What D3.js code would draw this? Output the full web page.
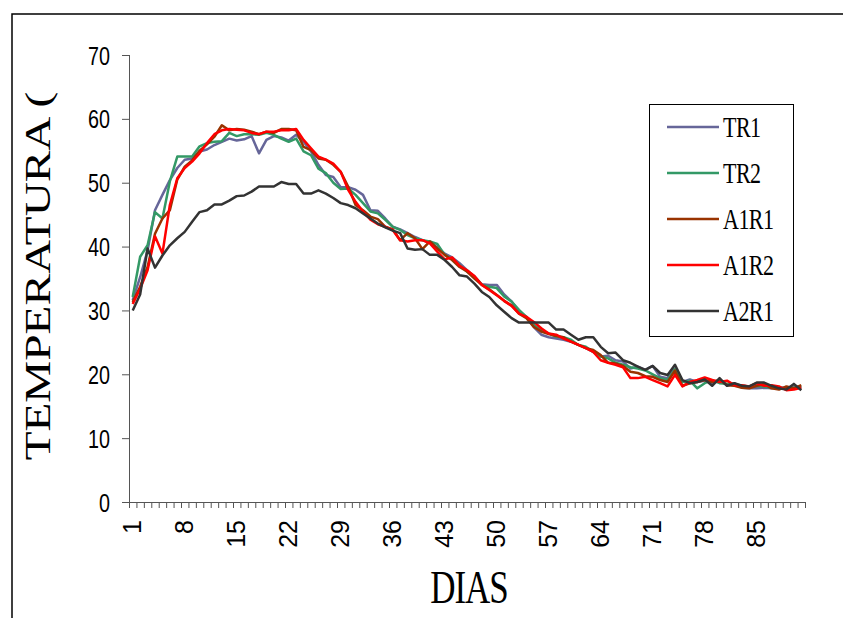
<!DOCTYPE html>
<html>
<head>
<meta charset="utf-8">
<script src="https://cdn.jsdelivr.net/npm/d3@7"></script>
<style>
  html, body { margin: 0; padding: 0; background: #fff; }
  svg { display: block; }
</style>
</head>
<body>
<div id="chart"></div>
<script>
// Data, days 1..91
const days = d3.range(1, 92);

const tr1 = [31.6, 35.2, 39.4, 45.7, 48.1, 50.4, 52.3, 53.6, 53.8, 54.9, 55.2, 55.9, 56.4, 56.9,
  56.6, 56.8, 57.3, 54.6, 56.7, 57.3, 57.1, 56.6, 57.5, 56.4, 54.9, 52.8, 51.2, 50.9, 49.3,
  49.3, 48.9, 48.1, 45.7, 45.6, 44.4, 43.1, 42.7, 42.1, 41.5, 41.0, 40.6, 39.9, 38.9, 38.3, 37.4, 36.3, 35.3, 34.1, 34.0, 34.0, 32.5,
  31.4, 29.8, 29.0, 27.4, 26.2, 25.8, 25.6, 25.4, 25.1, 24.6, 24.1, 23.5, 22.8, 22.9, 22.2, 22.0, 20.9, 21.2, 20.7, 21.3,
  19.6, 19.4, 20.9, 18.8, 19.2, 18.8, 19.0, 18.6, 19.1, 18.3, 18.6, 17.9, 17.8, 17.8, 17.9, 17.8, 17.9, 17.9, 18.1, 17.9];

const tr2 = [32.1, 38.4, 40.2, 45.4, 44.4, 50.2, 54.1, 54.1, 54.1, 55.7, 56.2, 56.4, 56.5, 57.8,
  57.3, 57.6, 57.6, 57.5, 57.8, 57.5, 56.9, 56.4, 56.9, 54.9, 54.3, 52.2, 51.5, 50.0, 49.0,
  49.1, 48.1, 46.8, 45.5, 45.2, 44.2, 43.1, 42.6, 41.8, 41.3, 41.0, 40.8, 40.4, 38.7, 38.0, 37.1, 36.1, 35.3, 34.0, 33.7, 33.5, 32.2,
  31.4, 30.1, 29.0, 27.7, 26.9, 26.4, 25.9, 25.8, 25.4, 24.6, 24.3, 23.5, 22.8, 22.5, 21.8, 21.5, 21.1, 20.9, 20.6, 20.0,
  19.4, 19.1, 20.8, 18.8, 19.0, 17.8, 18.6, 19.1, 18.6, 18.5, 18.5, 18.2, 18.1, 18.2, 18.1, 17.9, 17.9, 17.8, 17.9, 18.1];

const a1r1 = [31.3, 33.7, 36.8, 42.0, 44.4, 45.7, 50.5, 52.5, 53.5, 55.0, 56.0, 57.2, 59.0, 58.2,
  58.4, 58.3, 58.0, 57.6, 58.0, 57.8, 58.4, 58.4, 58.2, 55.6, 55.1, 53.8, 53.6, 52.8, 51.7,
  49.4, 46.5, 45.7, 44.7, 44.3, 43.1, 42.7, 41.0, 42.1, 41.3, 39.6, 40.8, 39.7, 38.7, 37.9, 36.8, 36.1, 35.0, 34.0, 33.3, 32.4, 31.5,
  30.8, 29.5, 28.8, 27.4, 26.7, 26.3, 26.0, 25.8, 25.1, 24.6, 24.1, 23.8, 23.0, 21.8, 21.7, 21.3, 20.4, 20.2, 19.7, 19.6,
  19.1, 18.8, 20.6, 18.2, 18.6, 18.8, 19.1, 18.8, 19.1, 18.3, 18.2, 17.9, 17.8, 18.2, 18.5, 17.8, 17.6, 18.1, 17.8, 18.3];

const a1r2 = [31.0, 33.4, 36.3, 41.6, 38.9, 46.5, 50.7, 52.3, 53.3, 54.6, 56.2, 57.6, 58.2, 58.4,
  58.3, 58.2, 57.8, 57.6, 58.0, 58.0, 58.2, 58.2, 58.4, 56.7, 55.4, 54.1, 53.6, 53.0, 51.7,
  48.9, 47.0, 45.5, 44.2, 43.5, 43.1, 42.6, 41.0, 40.8, 41.0, 41.0, 40.5, 39.2, 38.0, 38.3, 37.0, 36.3, 35.4, 34.0, 33.2, 32.4, 31.5,
  30.7, 29.5, 29.0, 28.2, 27.2, 26.4, 26.2, 25.6, 25.1, 24.6, 24.1, 23.5, 22.2, 21.8, 21.5, 21.1, 19.4, 19.4, 19.6, 19.1,
  18.6, 18.1, 19.9, 18.1, 18.8, 19.1, 19.5, 19.1, 18.8, 19.0, 18.3, 18.3, 18.1, 18.6, 18.2, 18.3, 18.1, 17.5, 17.6, 17.9];

const a2r1 = [30.0, 32.5, 39.7, 36.7, 38.6, 40.2, 41.3, 42.3, 43.9, 45.4, 45.7, 46.6, 46.6, 47.2,
  47.9, 48.0, 48.6, 49.4, 49.4, 49.4, 50.1, 49.8, 49.8, 48.3, 48.3, 48.8, 48.3, 47.6, 46.8,
  46.5, 46.0, 45.2, 44.4, 43.6, 43.0, 42.5, 42.1, 39.7, 39.5, 39.6, 38.7, 38.7, 37.9, 36.8, 35.5, 35.3, 34.2, 32.9, 32.1, 30.8, 29.8,
  28.8, 28.1, 28.1, 28.1, 28.1, 28.1, 27.0, 27.0, 26.2, 25.4, 25.8, 25.8, 24.3, 23.3, 23.4, 22.2, 21.8, 21.2, 20.7, 21.3,
  20.2, 19.9, 21.5, 19.1, 18.6, 18.8, 19.2, 18.2, 19.4, 18.2, 18.6, 18.2, 18.1, 18.7, 18.7, 18.2, 17.8, 17.6, 18.5, 17.5];

const seriesNames = ['TR1', 'TR2', 'A1R1', 'A1R2', 'A2R1'];
const seriesValues = [tr1, tr2, a1r1, a1r2, a2r1];
const seriesColors = ['#666699', '#339966', '#993300', '#ff0000', '#333333'];

const yTicks = [0, 10, 20, 30, 40, 50, 60, 70];
const xLabelDays = [1, 8, 15, 22, 29, 36, 43, 50, 57, 64, 71, 78, 85];

const width = 843;
const height = 618;
const plot = { left: 129, right: 805, top: 55, bottom: 502 };
const axisColor = '#555';

const svg = d3.select('#chart').append('svg')
  .attr('width', width)
  .attr('height', height)
  .attr('viewBox', [0, 0, width, height]);

// outer frame (only top and left edges are visible in the picture)
svg.append('path')
  .attr('d', `M12,${height + 2} L12,14 L${width + 2},14`)
  .attr('fill', 'none')
  .attr('stroke', '#000')
  .attr('stroke-width', 1.5);

// Scales
const x = d3.scaleBand().domain(days).range([plot.left, plot.right]);
const xEdge = d3.scaleLinear().domain([0, days.length]).range([plot.left, plot.right]);
const y = d3.scaleLinear().domain([0, 70]).range([plot.bottom, plot.top]);

// X axis: tick marks on category boundaries
svg.append('g')
  .attr('transform', `translate(0,${plot.bottom})`)
  .call(d3.axisBottom(xEdge).tickValues(d3.range(0, days.length + 1)).tickSize(6).tickFormat(''))
  .call(g => g.select('.domain').attr('stroke', axisColor).attr('d', `M${plot.left},0.5H${plot.right}`))
  .call(g => g.selectAll('line').attr('stroke', axisColor));

// X labels every 7 days, rotated
svg.append('g')
  .attr('transform', `translate(0,${plot.bottom})`)
  .call(d3.axisBottom(x).tickValues(xLabelDays).tickSize(0))
  .call(g => g.select('.domain').remove())
  .call(g => g.selectAll('text')
    .attr('transform', 'rotate(-90)')
    .attr('x', -18)
    .attr('y', 0)
    .attr('dy', '0.35em')
    .attr('text-anchor', 'end')
    .attr('font-family', '"Liberation Sans", Arial, sans-serif')
    .attr('font-size', '25px')
    .attr('fill', '#000'));

// Y axis
const sx = 0.79;
svg.append('g')
  .attr('transform', `translate(${plot.left},0)`)
  .call(d3.axisLeft(y).tickValues(yTicks).tickSize(7))
  .call(g => g.select('.domain').attr('stroke', axisColor).attr('d', `M0.5,${plot.top}V${plot.bottom}`))
  .call(g => g.selectAll('line').attr('stroke', axisColor))
  .call(g => g.selectAll('text')
    .attr('transform', `scale(${sx},1)`)
    .attr('x', -19 / sx)
    .attr('dy', '0.36em')
    .attr('font-family', '"Liberation Sans", Arial, sans-serif')
    .attr('font-size', '25px')
    .attr('fill', '#000'));

// Lines
const line = d3.line()
  .x((d, i) => x(days[i]) + x.bandwidth() / 2)
  .y(d => y(d));

svg.append('g')
  .selectAll('path')
  .data(seriesValues)
  .join('path')
  .attr('d', d => line(d))
  .attr('fill', 'none')
  .attr('stroke', (d, i) => seriesColors[i])
  .attr('stroke-width', 2.5)
  .attr('stroke-linejoin', 'round');

// Axis titles (Times, stretched vertically like the source)
svg.append('text')
  .attr('transform', 'translate(50,276) rotate(-90) scale(1.35,1)')
  .attr('text-anchor', 'middle')
  .attr('font-family', '"Liberation Serif", "Times New Roman", serif')
  .attr('font-size', '35px')
  .attr('fill', '#000')
  .text('TEMPERATURA (');

svg.append('text')
  .attr('transform', 'translate(469,603) scale(1,1.35)')
  .attr('text-anchor', 'middle')
  .attr('font-family', '"Liberation Serif", "Times New Roman", serif')
  .attr('font-size', '35px')
  .attr('letter-spacing', '-1px')
  .attr('fill', '#000')
  .text('DIAS');

// Legend
const legend = svg.append('g');
legend.append('rect')
  .attr('x', 649.5)
  .attr('y', 104.5)
  .attr('width', 144)
  .attr('height', 232)
  .attr('fill', '#fff')
  .attr('stroke', '#000')
  .attr('stroke-width', 1);

const legendY = d3.scalePoint().domain(seriesNames).range([127, 311]);

const items = legend.selectAll('g.item')
  .data(seriesNames)
  .join('g')
  .attr('class', 'item')
  .attr('transform', d => `translate(0,${legendY(d)})`);

items.append('line')
  .attr('x1', 667)
  .attr('x2', 719)
  .attr('stroke', (d, i) => seriesColors[i])
  .attr('stroke-width', 2.5);

items.append('text')
  .attr('transform', 'translate(723,10) scale(1,1.3)')
  .attr('font-family', '"Liberation Serif", "Times New Roman", serif')
  .attr('font-size', '22px')
  .attr('letter-spacing', '-0.5px')
  .attr('fill', '#000')
  .text(d => d);
</script>
</body>
</html>
